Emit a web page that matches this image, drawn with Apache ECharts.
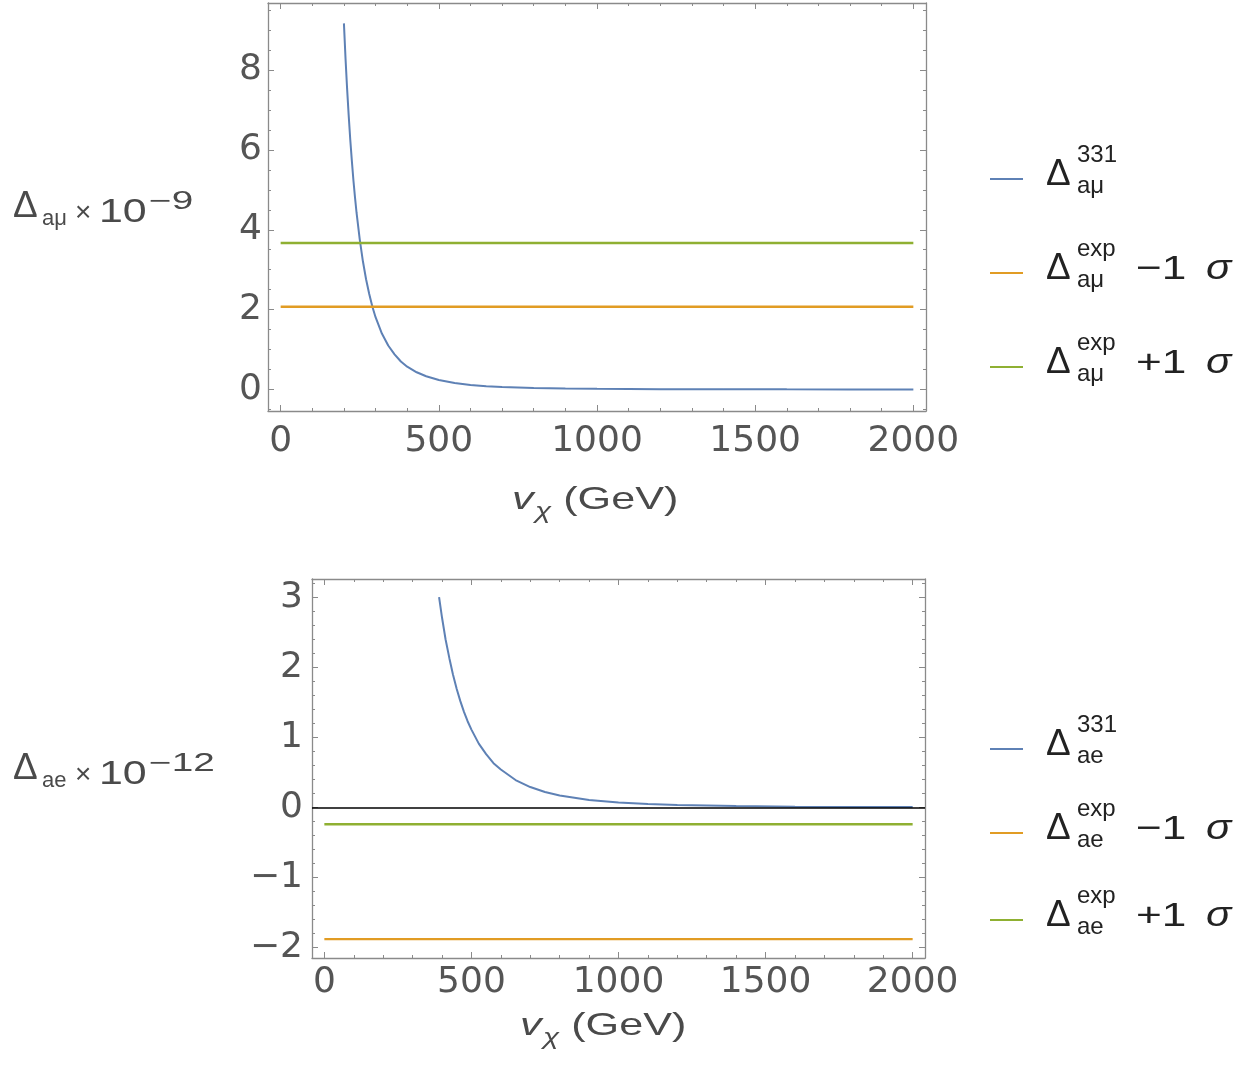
<!DOCTYPE html>
<html><head><meta charset="utf-8">
<script src="https://cdn.jsdelivr.net/npm/echarts@6/dist/echarts.min.js"></script>
<style>html,body{margin:0;padding:0;background:#fff}#c{width:1256px;height:1082px}</style>
</head><body><div id="c"></div>
<script>
// ---------------- data ----------------
// top panel: Delta a_mu (x 10^-9) vs v_chi (GeV)
const muV     = [200, 205, 210, 215, 220, 225, 230, 235, 240, 250, 260, 270, 280, 290, 300, 320, 340, 360, 380, 400, 430, 460, 500, 550, 600, 650, 700, 800, 900, 1000, 1200, 1400, 1600, 1800, 2000];
const muDelta = [9.17, 8.30, 7.54, 6.87, 6.26, 5.73, 5.24, 4.81, 4.42, 3.76, 3.21, 2.76, 2.39, 2.07, 1.81, 1.40, 1.10, 0.88, 0.70, 0.57, 0.43, 0.33, 0.235, 0.16, 0.113, 0.083, 0.061, 0.036, 0.022, 0.015, 0.007, 0.004, 0.0025, 0.0016, 0.001];
const muExpMinus = 2.07;   // Delta a_mu^exp - 1 sigma
const muExpPlus  = 3.67;   // Delta a_mu^exp + 1 sigma
// bottom panel: Delta a_e (x 10^-12) vs v_chi (GeV)
const eV     = [390, 400, 412, 425, 437, 450, 462, 475, 487, 500, 525, 550, 575, 600, 650, 700, 750, 800, 900, 1000, 1100, 1200, 1400, 1600, 1800, 2000];
const eDelta = [3.00, 2.71, 2.40, 2.13, 1.90, 1.69, 1.52, 1.36, 1.23, 1.11, 0.91, 0.76, 0.63, 0.54, 0.39, 0.29, 0.22, 0.17, 0.106, 0.069, 0.047, 0.033, 0.018, 0.0106, 0.0066, 0.0043];
const eExpMinus = -1.88;   // Delta a_e^exp - 1 sigma
const eExpPlus  = -0.24;   // Delta a_e^exp + 1 sigma
const lineSpan = [0, 2000];  // extent of the horizontal reference lines
// ticks
const xMajorTicks = [0, 500, 1000, 1500, 2000];
const xMinorTicks = [100, 200, 300, 400, 600, 700, 800, 900, 1100, 1200, 1300, 1400, 1600, 1700, 1800, 1900];
const muYMajor = [0, 2, 4, 6, 8];
const muYMinor = [-0.5, 0.5, 1, 1.5, 2.5, 3, 3.5, 4.5, 5, 5.5, 6.5, 7, 7.5, 8.5, 9, 9.5];
const eYMajor = [-2, -1, 0, 1, 2, 3];
const eYMinor = [-1.8, -1.6, -1.4, -1.2, -0.8, -0.6, -0.4, -0.2, 0.2, 0.4, 0.6, 0.8, 1.2, 1.4, 1.6, 1.8, 2.2, 2.4, 2.6, 2.8, 3.2];
// legend labels
const muLegend = [
  {sup: '331', sub: 'a\u03bc', suffix: null},
  {sup: 'exp', sub: 'a\u03bc', suffix: '\u22121'},
  {sup: 'exp', sub: 'a\u03bc', suffix: '+1'}
];
const eLegend = [
  {sup: '331', sub: 'ae', suffix: null},
  {sup: 'exp', sub: 'ae', suffix: '\u22121'},
  {sup: 'exp', sub: 'ae', suffix: '+1'}
];

// ---------------- styling ----------------
const BLUE = '#5e81b5', ORANGE = '#e19c24', GREEN = '#8fb032';
const FRAME = '#8a8a8a', TICK = '#8a8a8a', LABEL = '#555555', TEXT = '#4a4a4a', LEG = '#222222';
const TICKFONT = 'DejaVu Sans', SANS = 'Liberation Sans';

function axis(o) {
  return {
    type: 'value', gridIndex: o.grid, position: o.pos, min: o.min, max: o.max,
    splitLine: {show: false}, minorTick: {show: false},
    axisLine: {show: o.line, onZero: false, lineStyle: {color: FRAME, width: 1.3}},
    axisTick: {show: true, inside: true, length: o.len, customValues: o.ticks, lineStyle: {color: TICK, width: 1}},
    axisLabel: o.labels ? {
      show: true, customValues: o.ticks, margin: o.margin, fontFamily: TICKFONT, fontSize: 36, color: LABEL,
      formatter: v => String(v).replace('-', '\u2212')
    } : {show: false}
  };
}
function axesSet(grid, xmin, xmax, ymin, ymax, yMaj, yMin, xMargin, yMargin) {
  const xs = [
    axis({grid, pos: 'bottom', min: xmin, max: xmax, line: true, len: 6, ticks: xMajorTicks, labels: true, margin: xMargin}),
    axis({grid, pos: 'bottom', min: xmin, max: xmax, line: false, len: 3, ticks: xMinorTicks}),
    axis({grid, pos: 'top', min: xmin, max: xmax, line: true, len: 6, ticks: xMajorTicks}),
    axis({grid, pos: 'top', min: xmin, max: xmax, line: false, len: 3, ticks: xMinorTicks})
  ];
  const ys = [
    axis({grid, pos: 'left', min: ymin, max: ymax, line: true, len: 6, ticks: yMaj, labels: true, margin: yMargin}),
    axis({grid, pos: 'left', min: ymin, max: ymax, line: false, len: 3, ticks: yMin}),
    axis({grid, pos: 'right', min: ymin, max: ymax, line: true, len: 6, ticks: yMaj}),
    axis({grid, pos: 'right', min: ymin, max: ymax, line: false, len: 3, ticks: yMin})
  ];
  return {xs, ys};
}
const A0 = axesSet(0, -40, 2040, -0.54, 9.68, muYMajor, muYMinor, 13, 6);
const A1 = axesSet(1, -42, 2042, -2.15, 3.26, eYMajor, eYMinor, 7, 9);

function curve(xs, ys, color, xi, yi) {
  return {type: 'line', xAxisIndex: xi, yAxisIndex: yi, data: xs.map((v, i) => [v, ys[i]]),
    showSymbol: false, smooth: false, lineStyle: {color, width: 2}, itemStyle: {color}, silent: true};
}
function hline(val, color, xi, yi) {
  return {type: 'line', xAxisIndex: xi, yAxisIndex: yi, data: lineSpan.map(x => [x, val]),
    showSymbol: false, lineStyle: {color, width: 2.4}, itemStyle: {color}, silent: true};
}
const series = [
  curve(muV, muDelta, BLUE, 0, 0),
  hline(muExpMinus, ORANGE, 0, 0),
  hline(muExpPlus, GREEN, 0, 0),
  Object.assign(curve(eV, eDelta, BLUE, 4, 4), {
    markLine: {silent: true, symbol: 'none', label: {show: false}, animation: false,
      lineStyle: {color: '#000', width: 1.5, type: 'solid'}, data: [{yAxis: 0}]}
  }),
  hline(eExpMinus, ORANGE, 4, 4),
  hline(eExpPlus, GREEN, 4, 4)
];

// ---------------- text helpers (graphic) ----------------
function txt(x, base, t, s, o) {
  o = o || {};
  const el = {type: 'text', x: x, y: base - 0.347 * s, silent: true,
    style: {text: t, fontSize: s, fontFamily: o.fam || SANS, fontStyle: o.it ? 'italic' : 'normal',
      fill: o.color || TEXT, align: 'left', verticalAlign: 'middle', textAlign: 'left', textVerticalAlign: 'middle'}};
  if (o.sx) { el.scaleX = o.sx; el.originX = 0; el.originY = 0.347 * s; }
  return el;
}
const graphics = [];

// legends
function legendBlock(items, colors, lineYs) {
  items.forEach((it, i) => {
    const ly = lineYs[i];
    graphics.push({type: 'line', silent: true, shape: {x1: 990, y1: ly, x2: 1023, y2: ly}, style: {stroke: colors[i], lineWidth: 2}});
    graphics.push(txt(1046, ly + 9, '\u0394', 37, {color: LEG}));
    graphics.push(txt(1077, ly - 15, it.sup, 24, {color: LEG}));
    graphics.push(txt(1077, ly + 16, it.sub, 24, {color: LEG}));
    if (it.suffix) {
      graphics.push(txt(1136, ly + 8, it.suffix, 34, {color: LEG, sx: 1.3}));
      graphics.push(txt(1206, ly + 8, '\u03c3', 35, {color: LEG, it: true, sx: 1.2}));
    }
  });
}
legendBlock(muLegend, [BLUE, ORANGE, GREEN], [179, 273, 367]);
legendBlock(eLegend, [BLUE, ORANGE, GREEN], [749, 833, 920]);

// y titles
function yTitle(base, sub, exp) {
  graphics.push(txt(13, base - 4, '\u0394', 37));
  graphics.push(txt(42, base + 3, sub, 22));
  graphics.push(txt(75, base - 1, '\u00d7', 28));
  graphics.push(txt(99, base, '10', 33, {sx: 1.3}));
  graphics.push(txt(149, base - 13, exp, 25, {sx: 1.55}));
}
yTitle(224, 'a\u03bc', '\u22129');
yTitle(786, 'ae', '\u221212');

// x titles (horizontally stretched, like the plot region)
const mctx = document.createElement('canvas').getContext('2d');
function tw(t, s, it, fam) { mctx.font = (it ? 'italic ' : '') + s + 'px "' + fam + '"'; return mctx.measureText(t).width; }
function xTitle(x0, base) {
  const children = [];
  let x = 0;
  children.push(txt(x, 0, 'v', 32, {it: true}));
  x += tw('v', 32, true, SANS) + 1;
  children.push(txt(x, 9, '\u03c7', 22, {it: true}));
  x += tw('\u03c7', 22, true, SANS);
  children.push(txt(x, 0, ' (GeV)', 32));
  graphics.push({type: 'group', x: x0, y: base, scaleX: 1.35, children});
}
xTitle(512, 511);
xTitle(520, 1037);

const chart = echarts.init(document.getElementById('c'), null, {renderer: 'canvas'});
chart.setOption({
  animation: false,
  backgroundColor: '#ffffff',
  grid: [
    {left: 268, top: 3, width: 658, height: 408, show: false},
    {left: 312, top: 579, width: 613, height: 379, show: false}
  ],
  xAxis: A0.xs.concat(A1.xs),
  yAxis: A0.ys.concat(A1.ys),
  series,
  graphic: {elements: graphics}
});
</script></body></html>
